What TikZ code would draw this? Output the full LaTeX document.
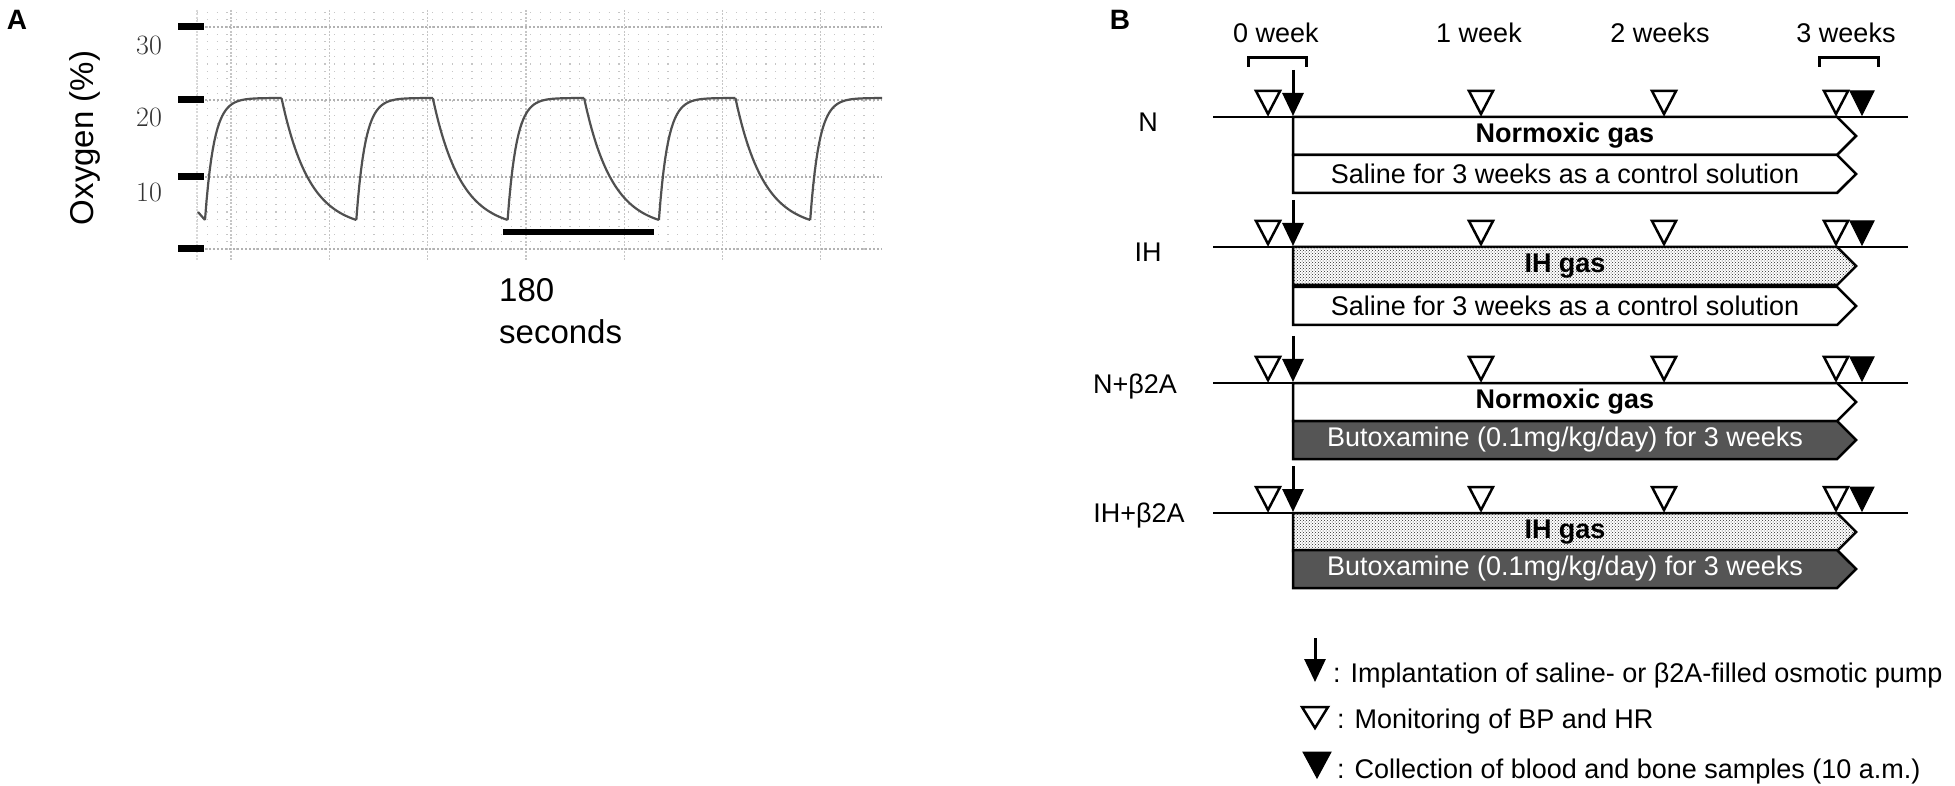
\documentclass[tikz,border=0pt]{standalone}
\usepackage{fontspec}
\usepackage{tikz}
\usetikzlibrary{arrows.meta, positioning, shapes.symbols, patterns}
\newfontfamily\libsans{Liberation Sans}
\newcommand\afnt{\libsans\fontsize{33}{38}\selectfont}
\newcommand\bfnt{\libsans\fontsize{27}{32}\selectfont}
\definecolor{tracegray}{HTML}{505050}
\definecolor{butox}{HTML}{555555}
\tikzstyle{panel} = [font = \libsans\bfseries\fontsize{28}{32}\selectfont, inner sep = 0]
\tikzstyle{griddot} = [gray!45, line width = 1.2pt, dash pattern = on 1.2pt off 8.6pt]
\tikzstyle{gridmajor} = [gray!45, line width = 1.3pt, dash pattern = on 2pt off 1.5pt]
\tikzstyle{gridrow} = [gray!60, line width = 1.3pt, dash pattern = on 2pt off 2pt]
\tikzstyle{tickbar} = [line width = 7pt]
\tikzstyle{ticklbl} = [font = \fontsize{28}{32}\selectfont, text = black!80, inner sep = 0]
\tikzstyle{axislbl} = [font = \afnt, inner sep = 0]
\tikzstyle{trace} = [tracegray, line width = 2.2pt, line join = round]
\tikzstyle{wk} = [font = \bfnt, inner sep = 0, anchor = base]
\tikzstyle{grp} = [font = \bfnt, inner sep = 0, anchor = base]
\tikzstyle{brk} = [line width = 3pt]
\tikzstyle{tline} = [line width = 2.8pt]
\tikzstyle{gasbox} = [
  signal, signal to = east, signal from = nowhere, signal pointer angle = 90,
  draw = black, line width = 2.5pt, fill = white,
  minimum width = 563pt, minimum height = 38pt,
  inner sep = 0, outer sep = 0, anchor = north west, font = \bfnt
]
\tikzstyle{ihbox} = [gasbox, postaction = {pattern = crosshatch dots, pattern color = black!85}]
\tikzstyle{drugbox} = [gasbox, fill = butox, text = white]
\tikzstyle{pump} = [-{Triangle[width = 21pt, length = 23pt]}, line width = 3pt]
\tikzstyle{mon} = [draw = black, line width = 2.5pt, fill = white, line join = miter]
\tikzstyle{coll} = [draw = black, line width = 1pt, fill = black]
\tikzstyle{legtxt} = [font = \bfnt, inner sep = 0, anchor = base west]

\begin{document}
\begin{tikzpicture}[x = 1pt, y = -1pt]
  \useasboundingbox (0, 0) rectangle (1955, 786);

  % A
  \node [panel] (lab-a) at (17, 20) {A};
  \foreach \k in {0, ..., 32}
    \draw [griddot] (197, {249 - 7.4 * \k}) -- (882, {249 - 7.4 * \k});
  \foreach \k in {0, ..., 6}
    \draw [gridmajor] ({231 + 98.3 * \k}, 10) -- ({231 + 98.3 * \k}, 260);
  \draw [gridmajor, gray!30] (197, 10) -- (197, 260);
  \foreach \yy in {27, 100, 177, 249} {
    \draw [gridrow] (197, \yy) -- (882, \yy);
    \draw [tickbar] (178, \yy) -- (204, \yy);
  }
  \node [ticklbl] (tl-30) at (149, 45) {30};
  \node [ticklbl] (tl-20) at (149, 117) {20};
  \node [ticklbl] (tl-10) at (149, 192) {10};
  \node [axislbl, rotate = 90] (lab-oxy) at (85, 138) {Oxygen (\%)};

  % trace
  \draw [trace] (198, 212) -- (205, 220);
  \foreach \m in {205, 356.3, 507.6, 658.9} {
    \draw [trace] plot [domain = 0:76.5, samples = 50]
      ({\m + \x}, {220 - 122 * (1 - exp(-\x / 9))});
    \draw [trace] plot [domain = 0:74.8, samples = 40]
      ({\m + 76.5 + \x}, {98 + 131 * (1 - exp(-\x / 28))});
  }
  \draw [trace] plot [domain = 0:71.8, samples = 50]
    ({810.2 + \x}, {220 - 122 * (1 - exp(-\x / 9))});

  \coordinate (bar-a) at (503, 232);
  \coordinate (bar-b) at (654, 232);
  \draw [line width = 6pt] (bar-a) -- (bar-b);
  \node [axislbl, anchor = west] (lab-180) at (499, 290) {180};
  \node [axislbl, anchor = west] (lab-sec) at (499, 332) {seconds};

  % B
  \node [panel] (lab-b) at (1120, 20) {B};
  \node [wk] (wk-0) at (1276, 43) {0 week};
  \node [wk] (wk-1) at (1479, 43) {1 week};
  \node [wk] (wk-2) at (1660, 43) {2 weeks};
  \node [wk] (wk-3) at (1846, 43) {3 weeks};
  \draw [brk] (1248, 67) -- (1248, 58) -- (1306, 58) -- (1306, 67);
  \draw [brk] (1819, 67) -- (1819, 58) -- (1878, 58) -- (1878, 67);

  \foreach \ly in {117, 247, 383, 513} {
    \draw [tline] (1213, \ly) -- (1908, \ly);
  }

  % N
  \node [grp] (grp-n) at (1148, 132) {N};
  \node [gasbox] (gas-n) at (1293, 117) {\textbf{Normoxic gas}};
  \node [gasbox] (drug-n) at (1293, 155) {Saline for 3 weeks as a control solution};
  % IH
  \node [grp] (grp-ih) at (1148, 262) {IH};
  \node [ihbox] (gas-ih) at (1293, 247) {\textbf{IH gas}};
  \node [gasbox] (drug-ih) at (1293, 287) {Saline for 3 weeks as a control solution};
  % N+b2A
  \node [grp] (grp-nb) at (1135, 393) {N+β2A};
  \node [gasbox] (gas-nb) at (1293, 383) {\textbf{Normoxic gas}};
  \node [drugbox] (drug-nb) at (1293, 421) {Butoxamine (0.1mg/kg/day) for 3 weeks};
  % IH+b2A
  \node [grp] (grp-ihb) at (1139, 522) {IH+β2A};
  \node [ihbox] (gas-ihb) at (1293, 513) {\textbf{IH gas}};
  \node [drugbox] (drug-ihb) at (1293, 550) {Butoxamine (0.1mg/kg/day) for 3 weeks};

  \foreach \ly in {117, 247, 383, 513} {
    \draw [pump] (1293, {\ly - 47}) -- (1293, {\ly - 1});
    \foreach \tx in {1268, 1481, 1664, 1836}
      \draw [mon] ({\tx - 12}, {\ly - 26}) -- ({\tx + 12}, {\ly - 26}) -- (\tx, {\ly - 3}) -- cycle;
    \draw [coll] (1850, {\ly - 26}) -- (1874, {\ly - 26}) -- (1862, {\ly - 2}) -- cycle;
  }

  % legend
  \coordinate (leg-pump) at (1315, 638);
  \draw [pump] (leg-pump) -- (1315, 682);
  \draw [mon] (1302, 707) -- (1328, 707) -- (1315, 728) -- cycle;
  \draw [coll] (1303, 752) -- (1331, 752) -- (1317, 778) -- cycle;
  \node [legtxt] (leg-pump-txt) at (1333, 682) {: Implantation of saline- or β2A-filled osmotic pump};
  \node [legtxt] (leg-mon-txt) at (1337, 728) {: Monitoring of BP and HR};
  \node [legtxt] (leg-coll-txt) at (1337, 778) {: Collection of blood and bone samples (10 a.m.)};
\end{tikzpicture}
\end{document}
